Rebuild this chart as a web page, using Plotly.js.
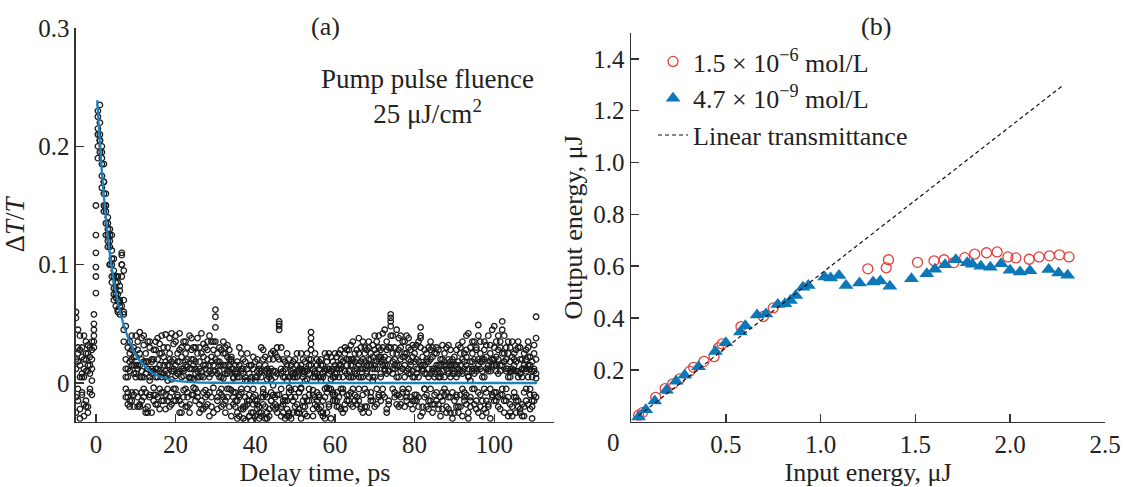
<!DOCTYPE html>
<html>
<head>
<meta charset="utf-8">
<script src="https://cdn.plot.ly/plotly-3.0.1.min.js"></script>
<style>html,body{margin:0;padding:0;background:#fff;}#chart{width:1124px;height:487px;}</style>
</head>
<body>
<div id="chart"></div>
<script>
// ---------- Panel (a): pump-probe transient ----------
const delays = [
-5,-4.5,-4,-3.5,-3,-2.5,-2,-1.5,-1,-.5,
0,.5,1,1.5,2,2.5,3,3.5,4,4.5,
5,5.5,6,6.5,7,7.5,8,8.5,9,9.5,
10,10.5,11,11.5,12,12.5,13,13.5,14,14.5,
15,15.5,16,16.5,17,17.5,18,18.5,19,19.5,
20,20.5,21,21.5,22,22.5,23,23.5,24,24.5,
25,25.5,26,26.5,27,27.5,28,28.5,29,29.5,
30,30.5,31,31.5,32,32.5,33,33.5,34,34.5,
35,35.5,36,36.5,37,37.5,38,38.5,39,39.5,
40,40.5,41,41.5,42,42.5,43,43.5,44,44.5,
45,45.5,46,46.5,47,47.5,48,48.5,49,49.5,
50,50.5,51,51.5,52,52.5,53,53.5,54,54.5,
55,55.5,56,56.5,57,57.5,58,58.5,59,59.5,
60,60.5,61,61.5,62,62.5,63,63.5,64,64.5,
65,65.5,66,66.5,67,67.5,68,68.5,69,69.5,
70,70.5,71,71.5,72,72.5,73,73.5,74,74.5,
75,75.5,76,76.5,77,77.5,78,78.5,79,79.5,
80,80.5,81,81.5,82,82.5,83,83.5,84,84.5,
85,85.5,86,86.5,87,87.5,88,88.5,89,89.5,
90,90.5,91,91.5,92,92.5,93,93.5,94,94.5,
95,95.5,96,96.5,97,97.5,98,98.5,99,99.5,
100,100.5,101,101.5,102,102.5,103,103.5,104,104.5,
105,105.5,106,106.5,107,107.5,108,108.5,109,109.5,
110,110.5];

const scan1 = [
.055,.018,-.022,.03,.012,-.015,.025,.008,.035,.058,
.125,.21,.235,.19,.17,.15,.125,.12,.105,.09,
.085,.07,.065,.108,.06,.012,-.018,.025,.04,.008,
.022,-.012,.043,.01,.032,-.008,.018,.005,-.025,.028,
.012,.038,-.005,.025,.008,.041,-.015,.02,.003,.033,
.015,-.01,.042,.022,.006,-.02,.03,.012,.038,-.004,
.008,.025,-.018,.01,.033,-.006,.02,.015,-.012,.035,
.062,.018,-.008,.028,.004,-.015,.022,.01,-.028,.012,
-.02,.005,-.012,.025,-.03,.002,-.018,.015,-.025,-.005,
.018,-.015,.008,-.028,.02,-.01,.003,-.022,.012,.027,
-.012,.022,.052,-.02,.005,-.03,.015,-.008,.01,-.025,
.008,-.018,.012,-.005,.02,-.026,.003,.015,.043,-.01,
.01,-.02,.018,.002,-.015,.025,-.008,.012,-.03,.005,
.015,.022,-.012,.028,.005,-.018,.02,.01,.032,-.005,
.025,.008,-.015,.03,.012,.018,-.02,.035,.015,.005,
.04,.012,-.01,.028,.02,.045,.015,-.018,.058,.025,
.03,.005,.038,-.012,.022,.015,.04,-.005,.028,.01,
.018,.032,-.02,.047,.01,-.012,.025,.005,.035,-.025,
.012,-.008,.028,.02,-.015,.005,.03,-.022,.015,.008,
.022,-.01,.018,.03,-.028,.012,.04,.005,-.015,.025,
.035,.012,.049,-.02,.018,.028,-.008,.015,-.03,.02,
.048,.022,-.012,.03,.052,.018,-.005,.025,.01,-.02,
.015,.028,-.015,.02,.005,-.028,.012,.022,-.01,.018,
.025,.056];

const scan2 = [
.06,.03,.005,-.01,.04,.02,-.025,.015,.028,.045,
.15,.23,.22,.2,.16,.135,.14,.115,.1,.08,
.072,.09,.068,.1,.045,-.012,.03,-.02,.015,.022,
.005,.035,-.018,.02,.04,-.022,.012,.03,.008,-.01,
.028,-.012,.015,.04,-.008,.01,.03,-.02,.042,.012,
-.005,.025,.01,-.018,.035,.015,-.008,.04,.02,.003,
.03,-.012,.018,.042,.005,-.02,.028,.01,.035,-.025,
.056,.025,.01,-.02,.035,.015,-.005,.028,.012,-.018,
.01,-.025,.015,-.008,.02,-.032,.012,-.015,.005,.022,
-.028,.01,-.02,.03,-.005,.015,-.025,.008,-.015,.02,
.025,-.01,.05,.012,-.025,.018,-.015,.005,-.03,.012,
-.02,.015,-.008,.025,-.015,.01,-.028,.02,.038,.005,
-.012,.02,.005,-.025,.015,-.005,.022,-.018,.01,.018,
.008,-.02,.025,.012,-.008,.03,.015,-.015,.02,.035,
-.01,.02,.038,.005,-.025,.025,.01,.03,-.012,.022,
.015,.035,.022,-.015,.042,.01,-.022,.03,.055,.012,
.02,.045,-.01,.03,.012,-.02,.025,.038,.008,-.015,
.03,-.015,.012,.04,.022,-.005,.018,-.022,.028,.01,
-.018,.025,.01,-.012,.032,.015,-.02,.02,.005,-.03,
.01,.028,-.02,.015,.035,-.008,.022,.042,-.012,.018,
.02,-.015,.04,.025,.005,-.022,.032,.01,.018,.045,
.03,-.008,.04,.015,.045,-.015,.02,.035,-.025,.012,
.025,-.012,.03,.008,.02,-.02,.028,.005,.015,-.03,
.01,.038];

const scan3 = [
.012,-.005,.04,.022,-.018,.035,.01,-.008,.02,.03,
.098,.225,.195,.165,.185,.16,.13,.1,.09,.105,
.065,.075,.082,.11,.058,.048,.005,.035,-.015,.03,
.04,.015,.025,-.015,.018,.008,-.02,.035,.012,.02,
-.018,.02,.033,.005,.022,-.01,.015,.038,.01,-.015,
.035,.008,-.015,.03,.012,.025,-.012,.005,.028,.02,
-.005,.038,.012,-.015,.022,.03,-.01,.04,.008,.015,
.047,.008,.03,.015,-.012,.025,.032,-.02,.018,.005,
-.008,.018,.03,-.022,.008,-.012,.025,-.028,.015,-.018,
.005,-.022,.015,-.012,.028,-.03,.012,.02,-.008,.01,
-.018,.03,.045,-.005,.02,-.012,.025,-.028,.015,.005,
.02,.005,-.022,.015,.01,-.012,.025,-.005,.033,.012,
.025,-.008,-.022,.015,.008,-.03,.012,.025,.003,-.015,
-.015,.012,.005,-.022,.018,.025,-.01,.028,.005,.015,
.018,-.018,.025,.012,.035,-.005,.028,.015,.02,-.015,
.028,-.005,.04,.018,.03,-.012,.035,.02,.052,.04,
-.012,.025,.015,.04,-.008,.035,.01,.02,-.018,.032,
-.01,.02,.035,.03,-.025,.015,.008,.03,-.015,.022,
.025,.015,-.022,.008,.02,-.01,.015,.032,-.025,.02,
-.025,.015,.032,-.01,.02,.025,-.018,.012,.03,-.005,
.012,.028,-.025,.035,.01,.02,-.015,.04,.025,-.01,
.015,.035,.02,-.022,.025,.04,.01,-.012,.03,.022,
-.008,.018,.035,-.022,.012,.025,-.015,.03,-.005,.01,
.032,.02];

const scan4 = [
-.025,.045,.015,.005,-.028,.01,.032,.022,-.01,.05,
.076,.2,.21,.185,.145,.15,.115,.13,.125,.075,
.09,.062,.078,.065,.095,.02,-.008,.01,.028,-.02,
.015,.028,.005,.038,-.005,.025,.035,-.012,.02,.01,
.035,.005,.025,-.015,.03,.018,.008,.025,-.008,.02,
.04,.018,.028,.005,-.012,.035,.02,-.025,.012,.03,
.018,.005,.03,.025,-.022,.012,.035,-.008,.022,.028,
.035,-.012,.018,.005,.025,.03,.008,.015,.02,-.008,
.015,-.015,.005,.01,-.02,.018,-.005,.008,-.032,.012,
-.01,.02,-.03,.005,-.018,.022,-.012,.01,.025,-.02,
.01,-.025,.048,.008,-.015,.005,-.022,.02,-.012,.018,
-.005,.025,.01,-.03,.005,.018,-.015,.008,.028,-.022,
.005,.015,-.012,.02,-.025,.01,.018,-.005,.022,-.01,
.025,-.008,.015,.02,-.025,.01,.028,.005,-.018,.02,
.01,.028,.005,-.022,.02,.03,.008,-.025,.025,.032,
-.02,.025,.03,.008,.015,.022,.028,.01,.048,.018,
.012,-.018,.028,.02,.035,.005,-.015,.03,.018,.022,
.025,.008,-.012,.038,.015,.028,-.02,.012,.02,.03,
.005,.03,.015,-.028,.01,.025,-.008,.01,.028,.012,
.015,-.02,.008,.025,.01,-.015,.028,-.025,.018,.035,
-.005,.03,.02,.012,-.028,.035,.022,-.02,.032,.015,
-.015,.01,.028,.035,-.01,.025,.03,-.028,.018,.035,
.02,-.025,.01,.03,-.018,.015,.02,.035,.022,-.015,
-.015,.004];

const scan5 = [
-.012,.025,-.03,.008,.02,-.02,.015,-.005,.012,.04,
.11,.215,.205,.175,.15,.125,.135,.1,.085,.095,
.08,.06,.07,.1,.035,.005,-.012,.018,-.008,.015,
-.008,.012,-.02,.005,-.012,.018,-.025,.002,.01,-.015,
.005,-.018,.01,-.008,.015,-.022,.002,-.012,.018,-.005,
-.015,.008,-.025,.012,-.006,.018,-.02,.004,-.01,.015,
.012,-.008,.005,-.022,.015,-.012,.008,-.028,.018,-.004,
.02,-.015,.005,-.01,.015,-.025,.01,-.005,.022,-.012,
-.015,.008,-.028,-.005,.012,-.02,.002,-.01,.015,-.025,
.002,-.018,.012,-.025,-.008,.01,-.03,.005,-.015,-.002,
-.022,.008,-.01,.03,-.018,.012,-.028,-.004,.008,-.015,
.005,-.025,-.008,.012,-.02,.002,.01,-.015,.02,-.006,
-.018,.008,-.01,.005,-.028,.012,-.004,-.02,.01,-.008,
.005,-.015,.012,-.005,.018,-.022,.008,-.01,.015,-.02,
.008,-.012,.015,-.02,.005,.012,-.008,.02,-.015,.002,
.012,-.018,.02,.005,-.01,.015,-.025,.01,.03,-.005,
-.008,.015,-.02,.01,-.005,.022,-.012,.008,.015,-.022,
.005,-.01,.018,-.028,.012,-.005,.02,-.015,.008,.012,
-.01,.012,-.018,.005,-.008,.018,-.025,.008,-.012,.015,
-.015,.005,.012,-.02,.008,-.012,.015,-.03,.002,.01,
.008,-.022,.015,-.01,.02,-.005,.012,-.018,.01,-.012,
.02,-.015,.008,-.01,.015,-.025,.012,.005,-.018,.01,
-.012,.01,-.02,.008,-.028,.012,-.005,.015,-.022,.005,
-.01,.008];

const scan6 = [
.02,-.015,.028,-.008,.005,.025,-.02,.03,.002,.035,
.09,.19,.205,.195,.17,.145,.12,.125,.112,.07,
.075,.085,.058,.09,.07,-.005,.012,-.015,.02,-.01,
.008,-.02,.015,-.008,.005,-.025,.012,-.01,.018,-.004,
-.01,.012,-.022,.008,-.015,.005,-.005,.015,-.018,.01,
.006,-.012,.018,-.025,.01,-.005,.014,-.018,.004,-.01,
-.015,.01,-.025,.006,-.008,.015,-.018,.005,-.02,.01,
.01,-.022,.015,-.005,-.018,.008,-.012,.02,-.006,.004,
.008,-.03,-.01,.012,-.022,.005,-.015,-.028,.002,-.012,
-.015,.005,-.025,.01,-.012,-.02,.008,-.028,.003,-.01,
.005,-.02,.02,-.028,.01,-.015,.002,-.025,-.006,.008,
-.012,.01,-.025,-.004,.008,-.02,.012,-.01,.015,-.028,
.008,-.015,.012,-.02,.005,-.012,-.025,.008,-.005,.012,
-.01,.008,-.02,.015,-.005,.01,-.015,.02,-.008,.005,
-.015,.012,-.005,.018,-.01,-.02,.015,.005,-.008,.012,
.005,.018,-.012,.022,-.005,.012,.008,-.015,.04,.008,
.015,-.01,.005,-.018,.012,.025,-.008,.012,-.012,.005,
-.015,.012,.005,.015,-.02,.008,-.01,.018,-.005,-.018,
.008,-.015,.005,.015,-.022,-.005,.012,-.012,.018,-.008,
.008,-.012,-.025,.01,-.005,.018,-.01,.006,-.02,.012,
-.018,.01,-.008,.018,-.015,.005,-.025,.012,-.005,.02,
-.008,.015,-.02,.01,-.005,.018,-.015,.012,.005,-.028,
.01,-.015,.005,-.025,.012,-.008,.01,-.018,.012,-.02,
.012,-.012];

// exponential fit curve
const fitX = [0.33,1,1.5,2,2.5,3,3.5,4,5,6,7,8,9,10,11,12,13,14,15,16,18,20,22,25,30,40,60,80,100,110.7];
const fitY = [.239,.203,.178,.158,.14,.124,.109,.097,.077,.061,.049,.039,.031,.024,.019,.015,.012,.009,.007,.0055,.0035,.002,.0012,.0006,.0002,0,0,0,0,0];

const xTickValsA = [0,20,40,60,80,100];
const xTickTextA = ['0','20','40','60','80','100'];
const yTickValsA = [0,0.1,0.2,0.3];
const yTickTextA = ['0','0.1','0.2','0.3'];

// ---------- Panel (b): optical limiting ----------
const redX = [0.04,0.06,0.13,0.18,0.22,0.256,0.31,0.33,0.385,0.438,0.461,0.48,0.58,0.698,0.75,1.249,1.346,1.358,1.511,1.598,1.651,1.703,1.76,1.813,1.875,1.931,1.988,2.03,2.1,2.152,2.207,2.26,2.31];
const redY = [0.025,0.035,0.094,0.128,0.146,0.165,0.195,0.21,0.233,0.251,0.285,0.3,0.367,0.406,0.439,0.59,0.594,0.625,0.615,0.621,0.625,0.614,0.633,0.647,0.652,0.655,0.636,0.632,0.627,0.636,0.64,0.644,0.636];

const blueX = [0.04,0.078,0.125,0.187,0.238,0.283,0.356,0.445,0.5,0.577,0.603,0.665,0.712,0.774,0.812,0.841,0.869,0.907,0.935,1.021,1.053,1.097,1.134,1.205,1.277,1.315,1.365,1.479,1.56,1.603,1.656,1.713,1.773,1.8,1.845,1.895,1.952,1.999,2.052,2.104,2.203,2.255,2.303];
const blueY = [0.018,0.046,0.08,0.121,0.156,0.179,0.212,0.271,0.305,0.346,0.37,0.412,0.416,0.452,0.455,0.468,0.487,0.519,0.526,0.558,0.555,0.564,0.526,0.535,0.539,0.543,0.523,0.552,0.571,0.588,0.606,0.625,0.613,0.608,0.6,0.596,0.61,0.584,0.578,0.583,0.587,0.574,0.565];

const linX = [0.04,2.28];
const linY = [0.023,1.299];

const xTickValsB = [0.5,1,1.5,2,2.5];
const xTickTextB = ['0.5','1.0','1.5','2.0','2.5'];
const yTickValsB = [0.2,0.4,0.6,0.8,1.0,1.2,1.4];
const yTickTextB = ['0.2','0.4','0.6','0.8','1.0','1.2','1.4'];

const seriesNames = ['1.5 × 10<sup>−6</sup> mol/L','4.7 × 10<sup>−9</sup> mol/L','Linear transmittance'];

// ---------- build ----------
const allX = delays.concat(delays, delays, delays, delays, delays);
const allY = scan1.concat(scan2, scan3, scan4, scan5, scan6);

const FONT = 'Liberation Serif, Times New Roman, serif';
const INK = '#222';
const AX = '#333';
const BLUE = '#0d78b8';

const traces = [
  {x: allX, y: allY, xaxis:'x', yaxis:'y', type:'scatter', mode:'markers', showlegend:false,
   marker:{symbol:'circle-open', size:5.5, color:'#1a1a1a', line:{width:1.3}}, hoverinfo:'skip'},
  {x: fitX, y: fitY, xaxis:'x', yaxis:'y', type:'scatter', mode:'lines', showlegend:false,
   line:{color:'#1c83c3', width:2.3, shape:'spline'}},
  {x: redX, y: redY, xaxis:'x2', yaxis:'y2', type:'scatter', mode:'markers', name: seriesNames[0],
   marker:{symbol:'circle-open', size:10, color:'#e5403a', line:{width:1.3}}},
  {x: blueX, y: blueY, xaxis:'x2', yaxis:'y2', type:'scatter', mode:'markers', name: seriesNames[1],
   marker:{symbol:'triangle-up', size:13, color:BLUE}},
  {x: linX, y: linY, xaxis:'x2', yaxis:'y2', type:'scatter', mode:'lines', name: seriesNames[2],
   line:{color:'#111', width:1.2, dash:'4px,3px'}}
];

function axisBase(){
  return {showline:true, linecolor:AX, linewidth:1.5, ticks:'inside', ticklen:8, tickwidth:1.5,
          tickcolor:AX, showgrid:false, zeroline:false, automargin:false,
          tickfont:{family:FONT, size:25, color:INK}, fixedrange:true};
}

const layout = {
  width:1124, height:487,
  margin:{l:0, r:0, t:0, b:0},
  paper_bgcolor:'#fff', plot_bgcolor:'#fff',
  font:{family:FONT, size:25, color:INK},
  showlegend:true,
  legend:{x:0.581, y:0.922, xanchor:'left', yanchor:'top', bgcolor:'rgba(0,0,0,0)',
          font:{family:FONT, size:26, color:INK}, tracegroupgap:0},
  xaxis: Object.assign(axisBase(), {domain:[0.0676,0.4929], range:[-5,115], anchor:'y',
          tickvals:xTickValsA, ticktext:xTickTextA,
          title:{text:'Delay time, ps', font:{family:FONT, size:26, color:INK}, standoff:6}}),
  yaxis: Object.assign(axisBase(), {domain:[0.1341,0.9425], range:[-0.0327,0.3], anchor:'x',
          tickvals:yTickValsA, ticktext:yTickTextA,
          title:{text:'Δ<i>T</i>/<i>T</i>', font:{family:FONT, size:27, color:INK}, standoff:6}}),
  xaxis2: Object.assign(axisBase(), {domain:[0.5614,0.9831], range:[0,2.5], anchor:'y2',
          tickvals:xTickValsB, ticktext:xTickTextB,
          title:{text:'Input energy, μJ', font:{family:FONT, size:26, color:INK}, standoff:6}}),
  yaxis2: Object.assign(axisBase(), {domain:[0.1341,0.9322], range:[0,1.5], anchor:'x2',
          tickvals:yTickValsB, ticktext:yTickTextB,
          title:{text:'Output energy, μJ', font:{family:FONT, size:26, color:INK}, standoff:3}}),
  annotations:[
    {text:'(a)', xref:'paper', yref:'paper', x:325/1124, y:1-27/487, xanchor:'center', yanchor:'middle',
     showarrow:false, font:{family:FONT, size:26, color:INK}},
    {text:'(b)', xref:'paper', yref:'paper', x:876/1124, y:1-27/487, xanchor:'center', yanchor:'middle',
     showarrow:false, font:{family:FONT, size:26, color:INK}},
    {text:'Pump pulse fluence<br>25 μJ/cm<sup>2</sup>', xref:'paper', yref:'paper', x:427/1124, y:1-96/487,
     xanchor:'center', yanchor:'middle', align:'center', showarrow:false,
     font:{family:FONT, size:27, color:INK}},
    {text:'0', xref:'x2', yref:'paper', x:0, y:1-442/487, xshift:-18, xanchor:'center', yanchor:'middle',
     showarrow:false, font:{family:FONT, size:25, color:INK}}
  ]
};

Plotly.newPlot('chart', traces, layout, {staticPlot:true, displayModeBar:false});
</script>
</body>
</html>
